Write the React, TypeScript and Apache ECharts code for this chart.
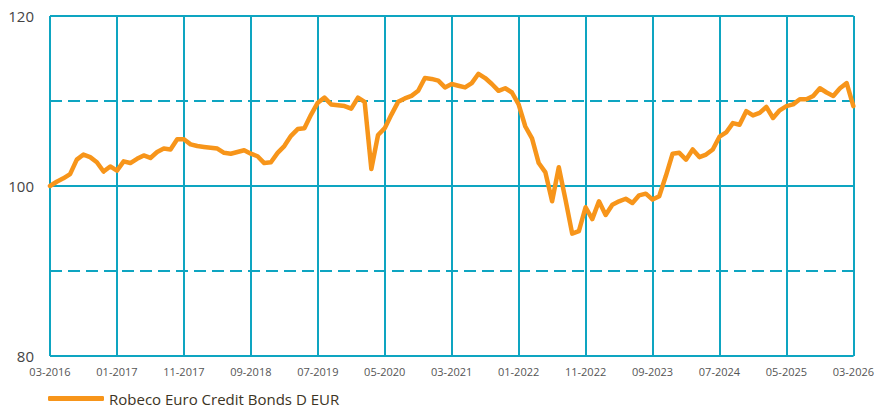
import React, { useEffect, useRef } from "react";
import * as echarts from "echarts";

const seriesName = "Robeco Euro Credit Bonds D EUR";
const startYear = 2016;
const startMonth = 3;
const monthCount = 121;

const categories: string[] = [];
for (let i = 0; i < monthCount; i++) {
  const m = ((startMonth - 1 + i) % 12) + 1;
  const y = startYear + Math.floor((startMonth - 1 + i) / 12);
  categories.push(String(m).padStart(2, "0") + "-" + y);
}

const values: number[] = [
  100.0, 100.5, 100.9, 101.4, 103.1, 103.7, 103.4, 102.8, 101.7, 102.3,
  101.8, 102.9, 102.7, 103.2, 103.6, 103.3, 104.0, 104.4, 104.3, 105.5,
  105.5, 104.9, 104.7, 104.6, 104.5, 104.4, 103.9, 103.8, 104.0, 104.2,
  103.8, 103.5, 102.7, 102.8, 103.9, 104.7, 105.9, 106.7, 106.8, 108.4,
  109.8, 110.4, 109.6, 109.5, 109.4, 109.1, 110.4, 109.9, 102.0, 106.0,
  106.8, 108.4, 109.9, 110.3, 110.6, 111.2, 112.7, 112.6, 112.4, 111.6,
  112.0, 111.8, 111.6, 112.1, 113.2, 112.7, 112.0, 111.2, 111.5, 111.0,
  109.6, 107.0, 105.6, 102.7, 101.6, 98.2, 102.2, 98.4, 94.4, 94.7,
  97.5, 96.1, 98.2, 96.6, 97.8, 98.2, 98.5, 98.0, 98.9, 99.1,
  98.4, 98.8, 101.2, 103.8, 103.9, 103.1, 104.3, 103.4, 103.7, 104.3,
  105.8, 106.3, 107.4, 107.2, 108.8, 108.3, 108.6, 109.3, 108.0, 108.9,
  109.4, 109.6, 110.2, 110.2, 110.6, 111.5, 111.0, 110.6, 111.5, 112.1,
  109.4,
];

const yMin = 80;
const yMax = 120;

const TEAL = "#0EA5C1";
const ORANGE = "#F7951A";

export default function App() {
  const ref = useRef<HTMLDivElement>(null);
  useEffect(() => {
    document.body.style.margin = "0";
    if (!ref.current) return;
    const chart = echarts.init(ref.current, undefined, { renderer: "svg" });
    chart.setOption({
      animation: false,
      textStyle: { fontFamily: "Open Sans" },
      grid: { left: 50, right: 23, top: 16, bottom: 52, containLabel: false },
      legend: {
        left: 48,
        top: 390,
        padding: 0,
        itemWidth: 56,
        itemHeight: 5,
        icon: "roundRect",
        itemGap: 10,
        textStyle: { fontSize: 15, lineHeight: 17, color: "#3c3424", fontFamily: "Open Sans" },
        data: [{ name: seriesName, itemStyle: { color: ORANGE } }],
      },
      xAxis: {
        type: "category",
        data: categories,
        boundaryGap: false,
        axisLine: { show: false },
        axisTick: { show: false },
        axisLabel: { interval: 9, margin: 10, fontSize: 11, color: "#555555", fontFamily: "Open Sans" },
        splitLine: { show: true, interval: 9, lineStyle: { color: TEAL, width: 2 } },
      },
      yAxis: [
        {
          type: "value",
          min: yMin,
          max: yMax,
          interval: 20,
          axisLine: { show: false },
          axisTick: { show: false },
          axisLabel: { margin: 16, fontSize: 15, color: "#444444", fontFamily: "Open Sans" },
          splitLine: { show: true, lineStyle: { color: TEAL, width: 2 } },
        },
        {
          type: "value",
          min: yMin,
          max: yMax,
          interval: 10,
          position: "left",
          axisLine: { show: false },
          axisTick: { show: false },
          axisLabel: { show: false },
          splitLine: { show: true, lineStyle: { color: TEAL, width: 2, type: [12, 6] } },
        },
      ],
      series: [
        {
          name: seriesName,
          type: "line",
          yAxisIndex: 0,
          data: values,
          showSymbol: false,
          symbol: "none",
          lineStyle: { color: ORANGE, width: 4.5, cap: "round", join: "round" },
          itemStyle: { color: ORANGE },
          z: 5,
        },
      ],
    });
    return () => chart.dispose();
  }, []);
  return <div ref={ref} style={{ width: 877, height: 408 }} />;
}
